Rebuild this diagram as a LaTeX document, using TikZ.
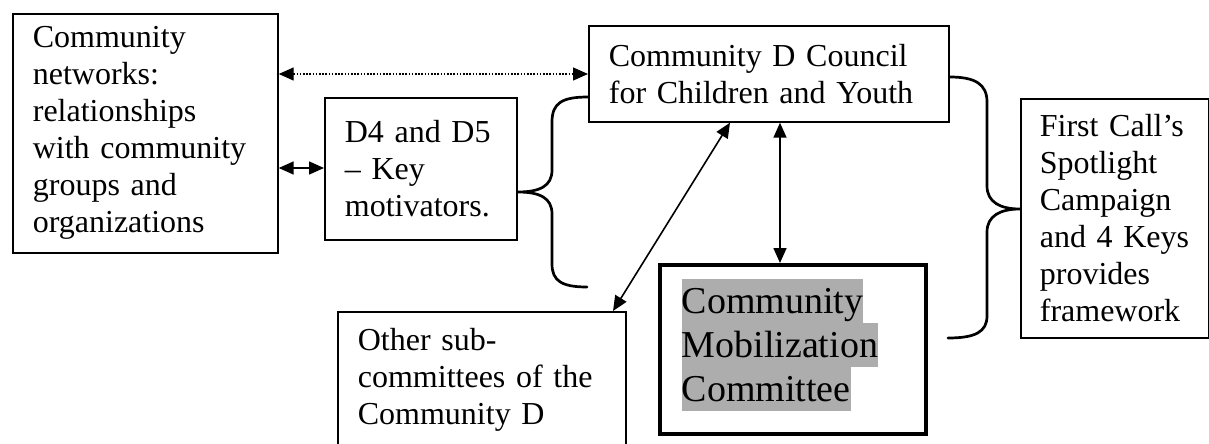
\documentclass[tikz,border=0pt]{standalone}
\usepackage{fontspec}
\setmainfont{Liberation Serif}
\usetikzlibrary{arrows.meta}
\definecolor{shadegray}{gray}{0.68}
\newcommand\shadestrut{\rule[-10pt]{0pt}{44pt}}
\newcommand\shadeline[1]{{\setlength{\fboxsep}{0pt}\colorbox{shadegray}{\shadestrut#1}}}
\tikzset{
  box/.style={draw, line width=1.7pt, anchor=north west, inner ysep=0pt, inner xsep=20pt,
    align=left, font=\fontsize{32}{37}\selectfont},
  thickbox/.style={box, line width=3.5pt, inner xsep=22pt, font=\fontsize{38}{44}\selectfont},
  twohead/.style={line width=1.6pt, {Triangle[length=15pt,width=13pt]}-{Triangle[length=15pt,width=13pt]}},
  dotline/.style={twohead, line width=1.4pt, dash pattern=on 1.6pt off 1.6pt},
  brace/.style={line width=2.7pt, line cap=round, line join=round}
}
\begin{document}
\begin{tikzpicture}[x=1pt, y=-1pt]
\useasboundingbox (0,0) rectangle (1209,444);
\clip (0,0) rectangle (1209,444);
\node[box, minimum width=265pt, minimum height=239pt, text width=225pt] (A) at (12,13)
  {Community\\ networks:\\ relationships\\ with community\\ groups and\\ organizations};
\node[box, minimum width=192pt, minimum height=142pt, text width=152pt] (B) at (324,97)
  {D4 and D5\\ -- Key\\ motivators.};
\node[box, minimum width=360pt, minimum height=96pt, text width=320pt] (C) at (588,25)
  {Community D Council\\ for Children and Youth};
\node[box, minimum width=188pt, minimum height=239pt, text width=150pt, inner xsep=19pt] (D) at (1020,98)
  {First Call’s\\ Spotlight\\ Campaign\\ and 4 Keys\\ provides\\ framework};
\node[box, minimum width=288pt, minimum height=136pt, text width=248pt] (O) at (337,311)
  {Other sub-\\ committees of the\\ Community D};
\node[thickbox, minimum width=266pt, minimum height=169pt, text width=222pt] (M) at (658,263)
  {\shadeline{Community}\\ \shadeline{Mobilization}\\ \shadeline{Committee}\rule[-18pt]{0pt}{0pt}};
% connectors
\draw[dotline] (A.east |- 0,74) -- (C.west |- 0,74);
\draw[twohead] (A.east |- 0,168) -- (B.west |- 0,168);
\draw[twohead] (C.south -| 730,0) -- (O.north -| 613,0);
\draw[twohead] (C.south -| 780,0) -- (M.north -| 780,0);
% braces
\coordinate (lbEnd) at (587,287);
\coordinate (rbEnd) at (948,338);
\draw[brace] (C.west |- 0,97) .. controls (562,97) and (552,103) .. (552,122)
  -- (552,170) .. controls (552,186) and (540,192) .. (B.east |- 0,192)
  .. controls (540,192) and (552,198) .. (552,214)
  -- (552,264) .. controls (552,281) and (562,287) .. (lbEnd);
\draw[brace] (C.east |- 0,77) .. controls (975,77) and (987,84) .. (987,102)
  -- (987,186) .. controls (987,202) and (1000,209) .. (D.west |- 0,209)
  .. controls (1000,209) and (987,216) .. (987,232)
  -- (987,316) .. controls (987,332) and (975,338) .. (rbEnd);
\end{tikzpicture}
\end{document}
